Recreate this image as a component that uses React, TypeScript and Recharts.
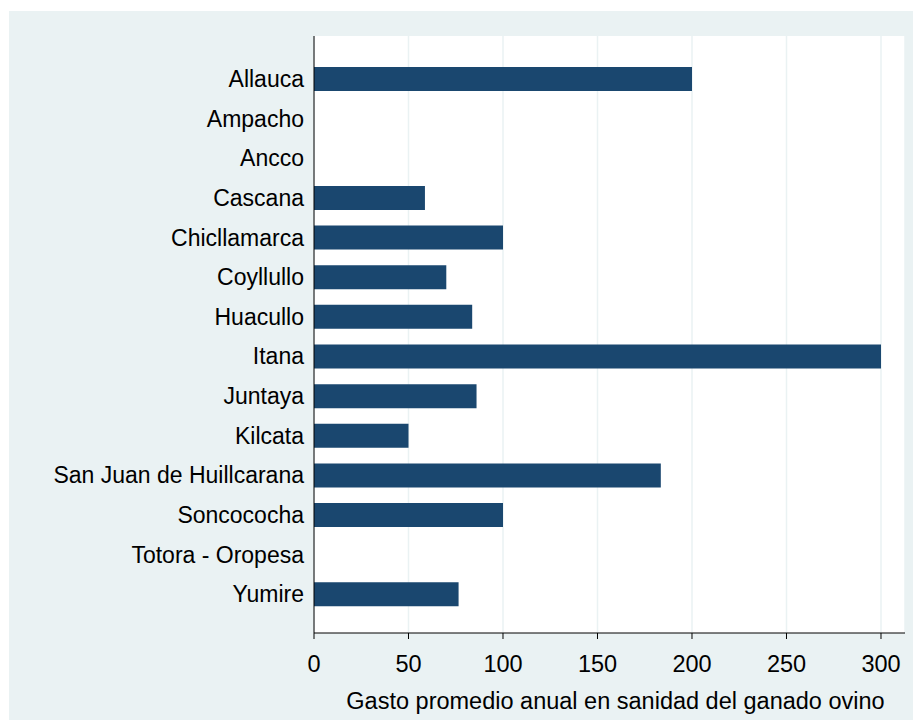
import React from 'react';
import {BarChart, Bar, XAxis, YAxis, CartesianGrid} from 'recharts';

const communities = [
    'Allauca',
    'Ampacho',
    'Ancco',
    'Cascana',
    'Chicllamarca',
    'Coyllullo',
    'Huacullo',
    'Itana',
    'Juntaya',
    'Kilcata',
    'San Juan de Huillcarana',
    'Soncococha',
    'Totora - Oropesa',
    'Yumire',
];

// gasto promedio anual (null = sin dato)
const gasto: (number | null)[] = [200, null, null, 58.7, 100, 70, 83.7, 300, 86, 50, 183.5, 100, null, 76.5];

const xTicks = [0, 50, 100, 150, 200, 250, 300];

const data = communities.map((name, i) => ({name, gasto: gasto[i]}));

const FONT = '"Liberation Sans", Arial, sans-serif';
const BG = '#eaf2f3';

export default function App() {
    return (
        <div style={{position: 'absolute', left: 9, top: 11, width: 904, height: 709, background: BG}}>
            <BarChart
                width={904}
                height={709}
                data={data}
                layout="vertical"
                margin={{top: 25, right: 8, left: 0, bottom: 0}}
            >
                <CartesianGrid horizontal={false} fill="#ffffff" stroke={BG} strokeWidth={1.5} />
                <XAxis
                    type="number"
                    domain={[0, 312.7]}
                    ticks={xTicks}
                    height={87}
                    axisLine={{stroke: '#000', strokeWidth: 1}}
                    tickLine={{stroke: '#000', strokeWidth: 1}}
                    tickSize={6}
                    tickMargin={16}
                    tick={{fill: '#000', fontSize: 23.5, fontFamily: FONT}}
                    label={{
                        value: 'Gasto promedio anual en sanidad del ganado ovino',
                        position: 'insideBottom',
                        offset: 11,
                        fill: '#000',
                        fontSize: 23.5,
                        fontFamily: FONT,
                        dx: 6,
                    }}
                />
                <YAxis
                    type="category"
                    dataKey="name"
                    width={305}
                    axisLine={{stroke: '#000', strokeWidth: 1}}
                    tickLine={false}
                    tickSize={0}
                    tickMargin={10}
                    padding={{top: 23, bottom: 19}}
                    interval={0}
                    tick={{fill: '#000', fontSize: 23, fontFamily: FONT}}
                />
                <Bar dataKey="gasto" fill="#1a476f" barSize={24} isAnimationActive={false} />
            </BarChart>
        </div>
    );
}
